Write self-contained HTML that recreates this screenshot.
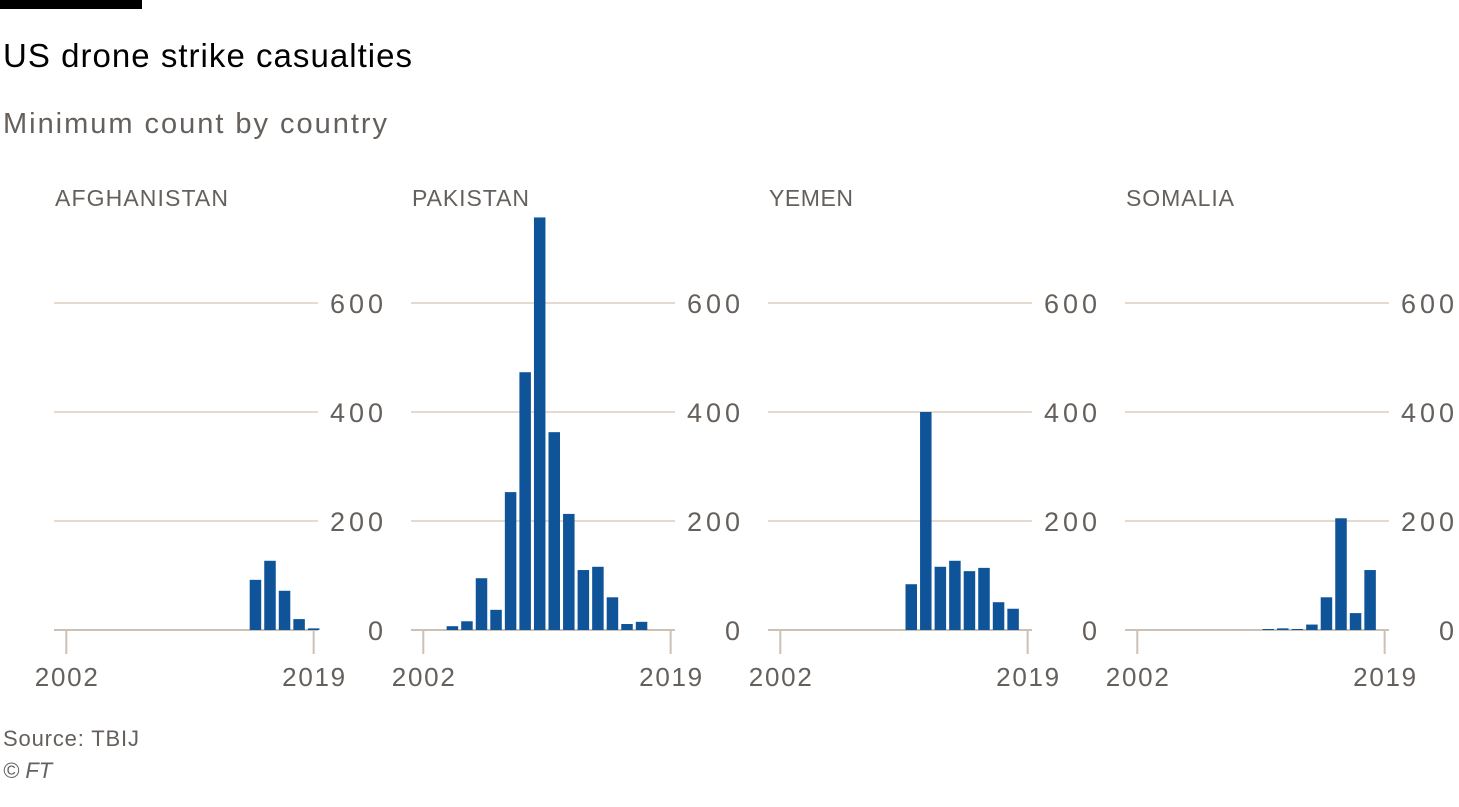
<!DOCTYPE html>
<html><head><meta charset="utf-8"><style>
body{margin:0;background:#fff;}
svg text{font-family:"Liberation Sans",sans-serif;}
</style></head><body>
<svg width="1459" height="802" viewBox="0 0 1459 802" xmlns="http://www.w3.org/2000/svg">
<rect x="0" y="0" width="142" height="9" fill="#000"/>
<text x="3" y="67" font-size="33" fill="#000" textLength="409" lengthAdjust="spacing">US drone strike casualties</text>
<text x="3" y="133" font-size="29" fill="#66605c" textLength="384" lengthAdjust="spacing">Minimum count by country</text>
<g id="panels"></g>
<text x="3" y="746" font-size="22" fill="#66605c" textLength="136" lengthAdjust="spacing">Source: TBIJ</text>
<text x="3" y="778" font-size="22" fill="#66605c" font-style="italic">© FT</text>
</svg>
<script>
const ns="http://www.w3.org/2000/svg";
const g=document.getElementById("panels");
function el(t,a,txt){const e=document.createElementNS(ns,t);for(const k in a)e.setAttribute(k,a[k]);if(txt!==undefined)e.textContent=txt;g.appendChild(e);return e;}
const data=[
 ["AFGHANISTAN",{2015:92,2016:127,2017:72,2018:20,2019:3},173],
 ["PAKISTAN",{2004:7,2005:16,2006:95,2007:37,2008:253,2009:473,2010:757,2011:363,2012:213,2013:110,2014:116,2015:60,2016:11,2017:15},117],
 ["YEMEN",{2011:84,2012:400,2013:116,2014:127,2015:108,2016:114,2017:51,2018:39},84],
 ["SOMALIA",{2011:1,2012:3,2013:1,2014:10,2015:60,2016:205,2017:31,2018:110},108]
];
const base=630,k=0.545,step=14.55;
data.forEach((d,i)=>{
 const off=i*357, x0=55+off, c02=66.3+off;
 el("text",{x:x0,y:206,"font-size":23,fill:"#66605c",textLength:d[2],lengthAdjust:"spacing"},d[0]);
 [200,400,600].forEach(v=>{const y=base-v*k;
  el("line",{x1:x0-1,x2:x0+263,y1:y,y2:y,stroke:"#e6d9ce","stroke-width":2});
  el("text",{x:x0+275,y:y+10,"font-size":27,fill:"#66605c",textLength:53,lengthAdjust:"spacing"},v);});
 el("text",{x:x0+328,y:base+10,"font-size":27,fill:"#66605c","text-anchor":"end"},"0");
 [c02,c02+17*step].forEach((x,j)=>{
  el("line",{x1:x,x2:x,y1:base,y2:base+24,stroke:"#ccc1b7","stroke-width":2});
  el("text",{x:x-31.5,y:686,"font-size":26,fill:"#66605c",textLength:63,lengthAdjust:"spacing"},j?"2019":"2002");});
 el("line",{x1:x0-1,x2:x0+263,y1:base,y2:base,stroke:"#ccc1b7","stroke-width":2});
 for(const yr in d[1]){const v=d[1][yr];const cx=c02+(yr-2002)*step;const h=Math.max(v*k,1);
  el("rect",{x:cx-5.75,y:base-h,width:11.5,height:h,fill:"#0f5499"});}
});
</script>
</body></html>
